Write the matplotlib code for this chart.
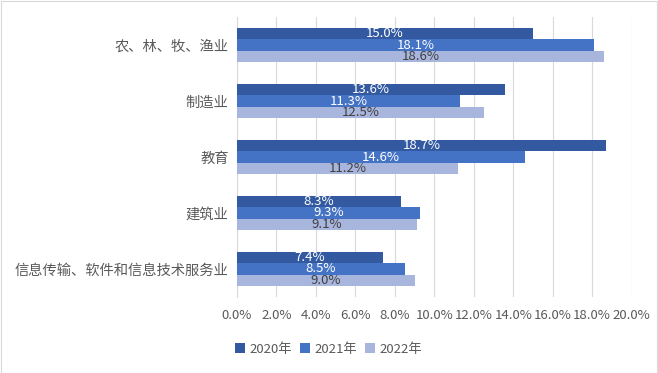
import matplotlib
matplotlib.use('Agg')
import matplotlib.pyplot as plt
from matplotlib.ticker import FuncFormatter, MultipleLocator
import numpy as np

plt.rcParams['font.family'] = ['Noto Sans CJK SC', 'DejaVu Sans']

categories = ['农、林、牧、渔业', '制造业', '教育', '建筑业', '信息传输、软件和信息技术服务业']
years = ['2020年', '2021年', '2022年']
v2020 = [15.0, 13.6, 18.7, 8.3, 7.4]
v2021 = [18.1, 11.3, 14.6, 9.3, 8.5]
v2022 = [18.6, 12.5, 11.2, 9.1, 9.0]

colors = ['#335AA1', '#4472C4', '#A8B5DC']
label_colors = ['white', 'white', '#404040']

fig = plt.figure(figsize=(6.58, 3.73), dpi=100)
ax = fig.add_axes([0.360, 0.204, 0.600, 0.750])

y = np.arange(len(categories))
h = 0.205
series = [v2020, v2021, v2022]
for i, vals in enumerate(series):
    pos = y + (i - 1) * h
    bars = ax.barh(pos, vals, height=h, color=colors[i], label=years[i], zorder=3)
    for b, v in zip(bars, vals):
        ax.text(v / 2, b.get_y() + h / 2, f'{v:.1f}%', ha='center', va='center',
                fontsize=9.5, color=label_colors[i], zorder=4)

ax.set_ylim(len(categories) - 0.5, -0.5)
ax.set_xlim(0, 20)
ax.xaxis.set_major_locator(MultipleLocator(2))
ax.xaxis.set_major_formatter(FuncFormatter(lambda x, p: f'{x:.1f}%'))
ax.set_yticks(y)
ax.set_yticklabels(categories)
ax.tick_params(axis='both', length=0, colors='#595959')
ax.tick_params(axis='x', pad=9, labelsize=9.5)
ax.tick_params(axis='y', pad=6, labelsize=10.3)
ax.grid(axis='x', color='#d9d9d9', linewidth=0.8, zorder=0)
for s in ['top', 'right', 'bottom']:
    ax.spines[s].set_visible(False)
ax.spines['left'].set_color('#d9d9d9')

leg = fig.legend(loc='center', bbox_to_anchor=(0.50, 0.064), ncol=3, frameon=False,
                 fontsize=9.5, handlelength=0.7, handleheight=0.7, handletextpad=0.4,
                 columnspacing=0.6)
for t in leg.get_texts():
    t.set_color('#595959')

fig.patches.append(plt.Rectangle((0.001, 0.001), 0.998, 0.997, transform=fig.transFigure,
                                 fill=False, edgecolor='#d9d9d9', linewidth=0.8))

fig.savefig('out.png', dpi=100)
